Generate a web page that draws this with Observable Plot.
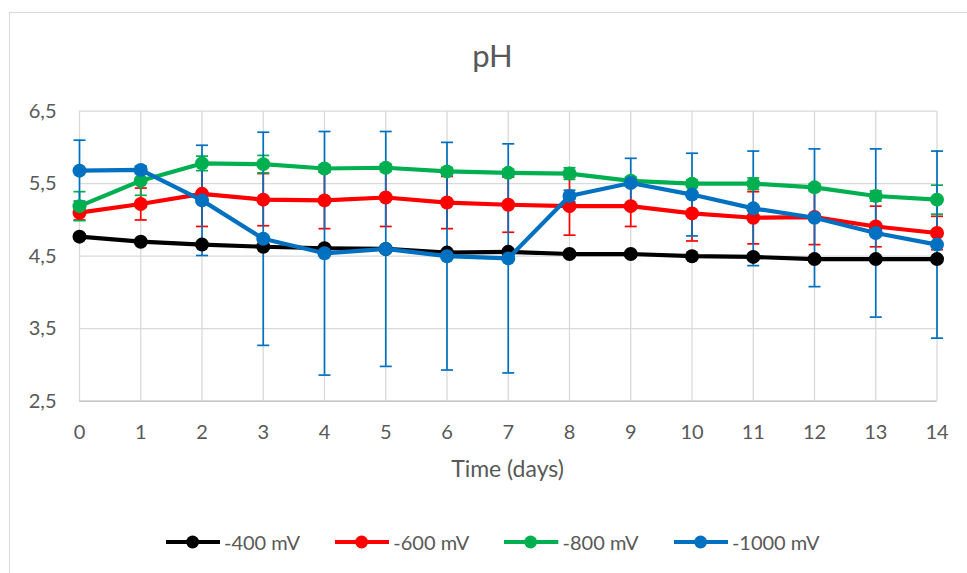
<!DOCTYPE html>
<html>
<head>
<meta charset="utf-8">
<script src="https://cdn.jsdelivr.net/npm/d3@7"></script>
<script src="https://cdn.jsdelivr.net/npm/@observablehq/plot@0.6"></script>
<style>
  html, body { margin: 0; padding: 0; background: #fff; }
  #wrap { position: relative; width: 967px; height: 573px; overflow: hidden; background: #fff; font-family: Lato, "Open Sans", sans-serif; color: #595959; }
  #frame { position: absolute; left: 9px; top: 12px; width: 1000px; height: 600px; border: 1px solid #d9d9d9; box-sizing: border-box; }
  #chart { position: absolute; left: 0; top: 0; }
  #title { position: absolute; left: 0; top: 40px; width: 985px; text-align: center; font-size: 31px; line-height: 31px; }
  #xlabel { position: absolute; left: 0; top: 457px; width: 1015px; text-align: center; font-size: 23px; line-height: 23px; }
  #legend { position: absolute; left: 165.7px; top: 531.7px; height: 20px; display: flex; }
  .item { width: 169.3px; height: 20px; display: flex; align-items: center; }
  .item span { margin-left: 4px; font-size: 20px; line-height: 20px; white-space: nowrap; }
</style>
</head>
<body>
<div id="wrap">
  <div id="frame"></div>
  <div id="chart"></div>
  <div id="title">pH</div>
  <div id="xlabel">Time (days)</div>
  <div id="legend"></div>
</div>
<script>
// ---- data ----
const days = [0, 1, 2, 3, 4, 5, 6, 7, 8, 9, 10, 11, 12, 13, 14];
const yTicks = [2.5, 3.5, 4.5, 5.5, 6.5];
const seriesNames = ["-400 mV", "-600 mV", "-800 mV", "-1000 mV"];
const seriesColors = ["#000000", "#FF0000", "#00B050", "#0070C0"];

const ph400  = [4.77, 4.70, 4.66, 4.63, 4.61, 4.60, 4.55, 4.56, 4.53, 4.53, 4.50, 4.49, 4.46, 4.46, 4.46];
const err400 = [0.03, 0.03, 0.03, 0.03, 0.03, 0.03, 0.03, 0.03, 0.03, 0.03, 0.03, 0.03, 0.03, 0.03, 0.03];

const ph600  = [5.10, 5.22, 5.36, 5.28, 5.27, 5.31, 5.24, 5.21, 5.19, 5.19, 5.09, 5.03, 5.04, 4.91, 4.82];
const err600 = [0.10, 0.22, 0.45, 0.36, 0.39, 0.40, 0.36, 0.38, 0.40, 0.28, 0.38, 0.36, 0.38, 0.28, 0.23];

const ph800  = [5.19, 5.54, 5.78, 5.77, 5.71, 5.72, 5.67, 5.65, 5.64, 5.54, 5.50, 5.50, 5.45, 5.33, 5.28];
const err800 = [0.20, 0.20, 0.10, 0.12, 0.05, 0.05, 0.05, 0.05, 0.08, 0.05, 0.05, 0.08, 0.05, 0.07, 0.20];

const ph1000  = [5.68, 5.69, 5.27, 4.74, 4.54, 4.60, 4.50, 4.47, 5.33, 5.51, 5.35, 5.16, 5.03, 4.82, 4.66];
const err1000 = [0.42, 0.05, 0.76, 1.47, 1.68, 1.62, 1.57, 1.58, 0.08, 0.34, 0.57, 0.79, 0.95, 1.16, 1.29];

// ---- build table ----
const valueSets = [ph400, ph600, ph800, ph1000];
const errSets = [err400, err600, err800, err1000];
const series = seriesNames.map((name, i) => ({
  name,
  color: seriesColors[i],
  rows: days.map((d, j) => ({ series: name, day: d, value: valueSets[i][j], err: errSets[i][j] }))
}));

// horizontal cap symbol for error bars
const capSymbol = {
  draw(context, size) {
    const w = Math.sqrt(size / Math.PI);
    context.moveTo(-w, 0);
    context.lineTo(w, 0);
  }
};

const gridStyle = { stroke: "#d9d9d9", strokeOpacity: 1, strokeWidth: 1.3 };

const errorMarks = series.flatMap(s => [
  Plot.ruleX(s.rows, { x: "day", y1: d => d.value - d.err, y2: d => d.value + d.err, stroke: s.color, strokeWidth: 1.7 }),
  Plot.dot(s.rows, { x: "day", y: d => d.value + d.err, symbol: capSymbol, r: 6, stroke: s.color, strokeWidth: 1.7, fill: "none" }),
  Plot.dot(s.rows, { x: "day", y: d => d.value - d.err, symbol: capSymbol, r: 6, stroke: s.color, strokeWidth: 1.7, fill: "none" })
]);

const seriesMarks = series.flatMap(s => [
  Plot.line(s.rows, { x: "day", y: "value", stroke: s.color, strokeWidth: 4.2, strokeLinejoin: "round", strokeLinecap: "round" }),
  Plot.dot(s.rows, { x: "day", y: "value", r: 7, fill: s.color, stroke: "none" })
]);

const chart = Plot.plot({
  width: 967,
  height: 573,
  marginTop: 110.7,
  marginBottom: 172.3,
  marginLeft: 79,
  marginRight: 30.5,
  style: { fontFamily: "Lato, 'Open Sans', sans-serif", fontSize: "20px", color: "#595959", background: "transparent", overflow: "visible" },
  x: { domain: [days[0], days[days.length - 1]] },
  y: { domain: [yTicks[0], yTicks[yTicks.length - 1]] },
  marks: [
    Plot.gridX(days, gridStyle),
    Plot.gridY(yTicks, gridStyle),
    Plot.ruleY([yTicks[0]], { stroke: "#c8c8c8", strokeWidth: 1.5 }),
    Plot.axisX(days, { tickSize: 0, tickPadding: 24, label: null, tickFormat: d => String(d) }),
    Plot.axisY(yTicks, { tickSize: 0, tickPadding: 23, label: null, tickFormat: d => d.toFixed(1).replace(".", ",") }),
    ...errorMarks,
    ...seriesMarks
  ]
});
document.getElementById("chart").appendChild(chart);

// ---- legend ----
const legend = document.getElementById("legend");
series.forEach(s => {
  const item = document.createElement("div");
  item.className = "item";
  item.innerHTML =
    `<svg width="54.3" height="20" style="display:block;flex:none"><line x1="0" x2="54.3" y1="10" y2="10" stroke="${s.color}" stroke-width="4"/><circle cx="26.6" cy="10" r="6.5" fill="${s.color}"/></svg><span>${s.name}</span>`;
  legend.appendChild(item);
});
</script>
</body>
</html>
